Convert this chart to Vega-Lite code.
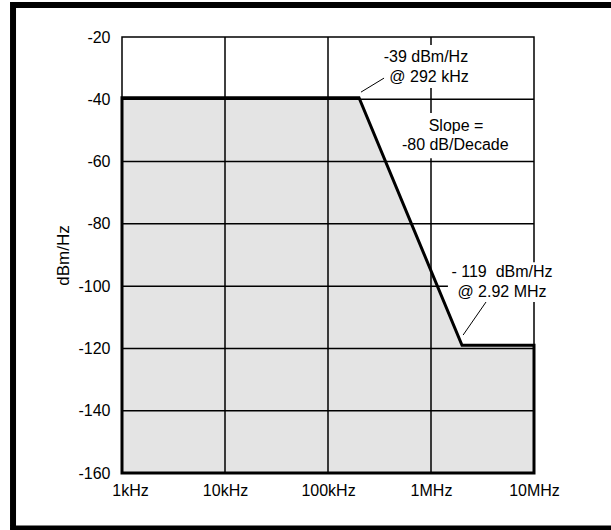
{
  "$schema": "https://vega.github.io/schema/vega-lite/v6.json",
  "width": 412,
  "height": 436,
  "autosize": {"type": "none"},
  "padding": {"left": 122, "top": 37, "right": 77, "bottom": 57},
  "background": "white",
  "config": {
    "view": {"stroke": "black", "strokeWidth": 1.5},
    "font": "Liberation Sans",
    "axis": {
      "labelFont": "Liberation Sans",
      "labelFontSize": 16,
      "labelColor": "black",
      "titleFont": "Liberation Sans",
      "titleFontSize": 17,
      "titleFontWeight": "normal",
      "titleColor": "black",
      "domain": false,
      "ticks": false,
      "grid": false
    }
  },
  "datasets": {
    "curve": [
      {"freq": 1000, "dBm": -39.5},
      {"freq": 200000, "dBm": -39.5},
      {"freq": 2000000, "dBm": -119},
      {"freq": 10000000, "dBm": -119}
    ],
    "vgrid": [{"freq": 10000}, {"freq": 100000}, {"freq": 1000000}],
    "hgrid": [{"dBm": -40}, {"dBm": -60}, {"dBm": -80}, {"dBm": -100}, {"dBm": -120}, {"dBm": -140}],
    "boxes": [
      {"f1": 320000, "f2": 2500000, "d1": -22.6, "d2": -36.4},
      {"f1": 500000, "f2": 6100000, "d1": -44.4, "d2": -58.9},
      {"f1": 1460000, "f2": 17900000, "d1": -92.3, "d2": -105.1}
    ],
    "notes": [
      {"freq": 893000, "dBm": -26.4, "text": "-39 dBm/Hz"},
      {"freq": 957000, "dBm": -32.85, "text": "@ 292 kHz"},
      {"freq": 1750000, "dBm": -48.6, "text": "Slope ="},
      {"freq": 1720000, "dBm": -54.7, "text": "-80 dB/Decade"},
      {"freq": 4890000, "dBm": -95.5, "text": "- 119\u00a0\u00a0dBm/Hz"},
      {"freq": 4890000, "dBm": -101.9, "text": "@ 2.92 MHz"}
    ],
    "leaders": [
      {"f1": 209000, "d1": -37.7, "f2": 350000, "d2": -33.2},
      {"f1": 2050000, "d1": -115.7, "f2": 3420000, "d2": -105.1}
    ]
  },
  "layer": [
    {
      "data": {"name": "curve"},
      "mark": {"type": "area", "fill": "#e4e4e4"},
      "encoding": {
        "x": {
          "field": "freq",
          "type": "quantitative",
          "scale": {"type": "log", "domain": [1000, 10000000]},
          "axis": {
            "values": [1000, 10000, 100000, 1000000, 10000000],
            "labelExpr": "datum.value >= 1000000 ? format(datum.value/1000000,'d') + 'MHz' : format(datum.value/1000,'d') + 'kHz'",
            "labelPadding": 9,
            "labelFlush": false,
            "labelOverlap": false,
            "labelOffset": {"condition": {"test": "datum.value <= 1000", "value": 8}, "value": 0},
            "title": null
          }
        },
        "y": {
          "field": "dBm",
          "type": "quantitative",
          "scale": {"domain": [-160, -20], "zero": false, "nice": false},
          "axis": {
            "values": [-160, -140, -120, -100, -80, -60, -40, -20],
            "labelExpr": "'' + datum.value",
            "labelPadding": 12,
            "title": "dBm/Hz",
            "titlePadding": 5
          }
        },
        "y2": {"datum": -160}
      }
    },
    {
      "data": {"name": "vgrid"},
      "mark": {"type": "rule", "color": "black", "strokeWidth": 1.5},
      "encoding": {"x": {"field": "freq", "type": "quantitative"}}
    },
    {
      "data": {"name": "hgrid"},
      "mark": {"type": "rule", "color": "black", "strokeWidth": 1.5},
      "encoding": {"y": {"field": "dBm", "type": "quantitative"}}
    },
    {
      "data": {"name": "curve"},
      "mark": {"type": "area", "fillOpacity": 0, "stroke": "black", "strokeWidth": 3, "strokeJoin": "miter"},
      "encoding": {
        "x": {"field": "freq", "type": "quantitative"},
        "y": {"field": "dBm", "type": "quantitative"},
        "y2": {"datum": -160}
      }
    },
    {
      "data": {"name": "boxes"},
      "mark": {"type": "rect", "fill": "white"},
      "encoding": {
        "x": {"field": "f1", "type": "quantitative"},
        "x2": {"field": "f2"},
        "y": {"field": "d1", "type": "quantitative"},
        "y2": {"field": "d2"}
      }
    },
    {
      "data": {"name": "notes"},
      "mark": {"type": "text", "fontSize": 16, "font": "Liberation Sans", "color": "black", "align": "center", "baseline": "middle"},
      "encoding": {
        "x": {"field": "freq", "type": "quantitative"},
        "y": {"field": "dBm", "type": "quantitative"},
        "text": {"field": "text"}
      }
    },
    {
      "data": {"name": "leaders"},
      "mark": {"type": "rule", "color": "black", "strokeWidth": 1},
      "encoding": {
        "x": {"field": "f1", "type": "quantitative"},
        "x2": {"field": "f2"},
        "y": {"field": "d1", "type": "quantitative"},
        "y2": {"field": "d2"}
      }
    },
    {
      "data": {"values": [{}]},
      "mark": {"type": "rect", "fillOpacity": 0, "stroke": "black", "strokeWidth": 6},
      "encoding": {
        "x": {"datum": 87.5},
        "x2": {"datum": 62500000},
        "y": {"datum": -9.72},
        "y2": {"datum": -177.8}
      }
    }
  ]
}
